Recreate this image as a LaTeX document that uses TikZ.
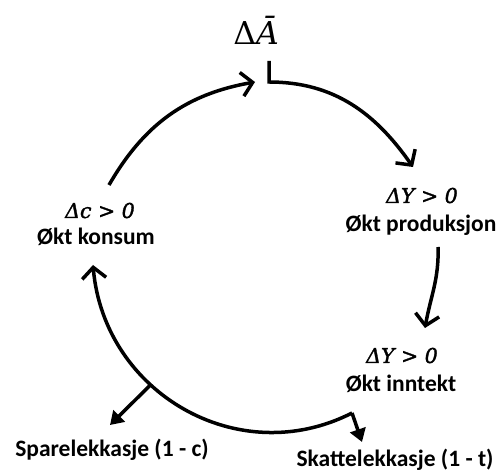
\documentclass[tikz,border=0pt]{standalone}
\usepackage{fontspec}
\setmainfont{Carlito}
\newfontfamily\italfont[FakeBold=1.6]{DejaVu Serif}
\newfontfamily\deltafont{DejaVu Serif}
\usetikzlibrary{arrows.meta}

\begin{document}
\begin{tikzpicture}[x=1pt,y=1pt,
    lbl/.style={font=\fontsize{23.5}{26}\selectfont\bfseries,inner sep=0pt,anchor=base},
    mth/.style={font=\fontsize{20.5}{24}\selectfont\italfont\itshape,inner sep=0pt,anchor=base},
    loop/.style={line width=3.5pt,-{Straight Barb[length=11pt,width=24pt]}},
    leak/.style={line width=3.5pt,-{Triangle[length=13pt,width=16pt]}}]
    \useasboundingbox (0,0) rectangle (503,471);
    \node[font=\fontsize{31.5}{36}\selectfont\deltafont,inner sep=0pt,anchor=base] (A) at (256,426) {Δ\textit{Ā}};
    \node[mth] (dY1) at (422,268) {ΔY > 0};
    \node[lbl] (prod) at (421,239) {Økt produksjon};
    \node[mth] (dY2) at (402,108) {ΔY > 0};
    \node[lbl] (innt) at (401,79) {Økt inntekt};
    \node[mth] (dc) at (100,253) {Δc > 0};
    \node[lbl] (kons) at (96,226) {Økt konsum};
    \node[lbl] (spare) at (112,15) {Sparelekkasje (1 - c)};
    \node[lbl] (skatt) at (395,5) {Skattelekkasje (1 - t)};
    \coordinate (kbar) at (269,410);
    \coordinate (kink) at (269,389);
    \coordinate (topin) at (255,389);
    \coordinate (konsout) at (109,286);
    \coordinate (prodin) at (413,304);
    \coordinate (prodout) at (438,224);
    \coordinate (inntin) at (425,143);
    \coordinate (skat) at (352,58);
    \coordinate (konsin) at (93,206);
    \coordinate (sparetip) at (110,46);
    \coordinate (skattip) at (362,29);
    \draw[loop] (konsout) to[out=60,in=190] (topin);
    \draw[loop] (kbar) -- (kink) to[out=0,in=125] (prodin);
    \draw[loop] (prodout) to[out=-88,in=80] (inntin);
    \draw[loop] (skat) to[out=207,in=-85,looseness=1.1] coordinate[pos=0.62] (sparept) (konsin);
    \draw[leak] (sparept) -- (sparetip);
    \draw[leak] (skat) -- (skattip);
\end{tikzpicture}
\end{document}
